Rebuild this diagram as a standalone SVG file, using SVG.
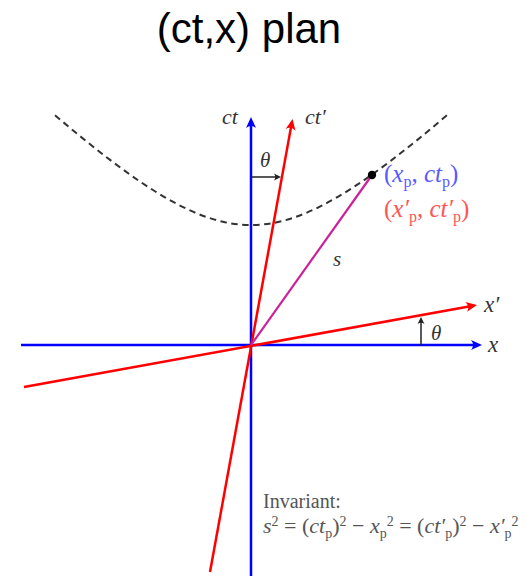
<svg xmlns="http://www.w3.org/2000/svg" width="529" height="576" viewBox="0 0 529 576">
<style>
.blue{stroke:#0000ff;stroke-width:2.5;fill:none}
.red{stroke:#ff0000;stroke-width:2.5;fill:none}
.math{font-family:"Liberation Serif","Times New Roman",serif;font-style:italic}
.rm{font-family:"Liberation Serif","Times New Roman",serif;font-style:normal}
.sub{font-style:normal}
</style>
<defs>
<marker id="abl" markerUnits="userSpaceOnUse" markerWidth="14" markerHeight="14" refX="7" refY="0" viewBox="0 -7 14 14" orient="auto" overflow="visible">
<path d="M11,0 L0,-5 Q4,0 0,5 Z" fill="#0000ff"/>
</marker>
<marker id="ard" markerUnits="userSpaceOnUse" markerWidth="14" markerHeight="14" refX="7" refY="0" viewBox="0 -7 14 14" orient="auto" overflow="visible">
<path d="M11,0 L0,-5 Q4,0 0,5 Z" fill="#ff0000"/>
</marker>
<marker id="abk" markerUnits="userSpaceOnUse" markerWidth="10" markerHeight="10" refX="4" refY="0" viewBox="0 -5 10 10" orient="auto" overflow="visible">
<path d="M7,0 L0,-3.5 Q2.5,0 0,3.5 Z" fill="#222"/>
</marker>
</defs>
<rect width="529" height="576" fill="#ffffff"/>
<g id="title">
<text x="249" y="43" font-family="Liberation Sans, Arial, sans-serif" font-size="42" text-anchor="middle" fill="#000">(ct,x) plan</text>
</g>
<g id="hyperbola">
<path d="M55,115.2 C73.67,131.12 92.33,146.43 111,160.6 C129.67,174.77 148.33,187.8 167,198.5 C185.67,209.2 204.33,217.56 223,221.8 C241.67,226.04 260.33,226.04 279,221.8 C297.67,217.56 316.33,209.2 335,198.5 C353.67,187.8 372.33,174.77 391,160.6 C409.67,146.43 428.33,131.12 447,115.2" fill="none" stroke="#333" stroke-width="2" stroke-dasharray="6.5,4.5"/>
</g>
<g id="connectors">
<line id="x-axis" class="blue" x1="21" y1="345" x2="478" y2="345" marker-end="url(#abl)"/>
<line id="ct-axis" class="blue" x1="251" y1="576" x2="251" y2="121" marker-end="url(#abl)"/>
<line id="xp-axis" class="red" x1="24" y1="387" x2="473.1" y2="305.7" marker-end="url(#ard)"/>
<line id="ctp-axis" class="red" x1="210" y1="572" x2="291.8" y2="122.9" marker-end="url(#ard)"/>
<line id="s-line" x1="251" y1="345" x2="372" y2="175" stroke="#cc2299" stroke-width="2.2"/>
<line id="theta-arrow-top" x1="251" y1="177" x2="278" y2="177" stroke="#222" stroke-width="1.5" marker-end="url(#abk)"/>
<line id="theta-arrow-right" x1="421" y1="345" x2="421" y2="320" stroke="#222" stroke-width="1.5" marker-end="url(#abk)"/>
</g>
<g id="event-point">
<circle cx="372" cy="175" r="4.2" fill="#000"/>
</g>
<g id="labels">
<text class="math" x="222" y="124" font-size="22" fill="#333">ct</text>
<text class="math" x="305" y="124" font-size="22" fill="#333">ct′</text>
<text class="math" x="260" y="167" font-size="21" fill="#333">θ</text>
<text class="math" x="431" y="340" font-size="21" fill="#333">θ</text>
<text class="math" x="484" y="312" font-size="23" fill="#333">x′</text>
<text class="math" x="488" y="352" font-size="23" fill="#333">x</text>
<text class="math" x="333" y="266" font-size="21" fill="#333">s</text>
<text class="math" x="384" y="182" font-size="25" fill="#5a5aff"><tspan class="rm">(</tspan>x<tspan class="sub" font-size="16" dy="5">p</tspan><tspan class="rm" dy="-5">, </tspan>ct<tspan class="sub" font-size="16" dy="5">p</tspan><tspan class="rm" dy="-5">)</tspan></text>
<text class="math" x="384" y="217" font-size="25" fill="#ff5555"><tspan class="rm">(</tspan>x′<tspan class="sub" font-size="16" dy="5">p</tspan><tspan class="rm" dy="-5">, </tspan>ct′<tspan class="sub" font-size="16" dy="5">p</tspan><tspan class="rm" dy="-5">)</tspan></text>
</g>
<g id="invariant" fill="#555">
<text class="rm" x="263" y="508" font-size="20">Invariant:</text>
<text class="math" x="263" y="533" font-size="22">s<tspan class="sub" font-size="14" dy="-7">2</tspan><tspan class="rm" dy="7"> = (</tspan>ct<tspan class="sub" font-size="14" dy="5">p</tspan><tspan class="rm" dy="-5">)</tspan><tspan class="sub" font-size="14" dy="-7">2</tspan><tspan class="rm" dy="7"> − </tspan>x<tspan class="sub" font-size="14" dy="5">p</tspan><tspan class="sub" font-size="14" dy="-12">2</tspan><tspan class="rm" dy="7"> = (</tspan>ct′<tspan class="sub" font-size="14" dy="5">p</tspan><tspan class="rm" dy="-5">)</tspan><tspan class="sub" font-size="14" dy="-7">2</tspan><tspan class="rm" dy="7"> − </tspan>x′<tspan class="sub" font-size="14" dy="5">p</tspan><tspan class="sub" font-size="14" dy="-12">2</tspan></text>
</g>
</svg>
